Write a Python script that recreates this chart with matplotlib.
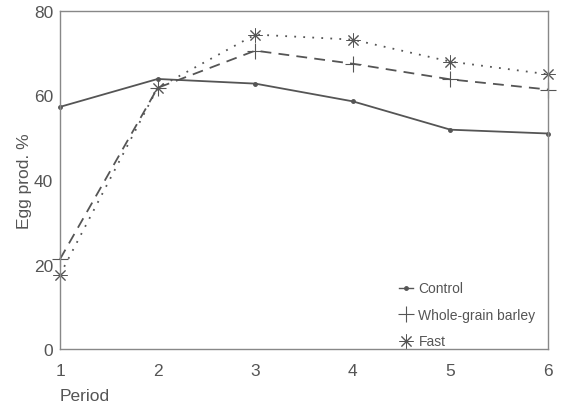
import matplotlib
matplotlib.use("Agg")
import matplotlib.pyplot as plt
from matplotlib.lines import Line2D

periods = [1, 2, 3, 4, 5, 6]
control = [57.3, 63.9, 62.8, 58.6, 51.9, 51.0]
barley = [21.3, 61.8, 70.6, 67.5, 63.8, 61.4]
fast = [17.6, 61.8, 74.4, 73.2, 68.0, 65.0]
series_names = ["Control", "Whole-grain barley", "Fast"]
yticks = [0, 20, 40, 60, 80]

c = "#555555"
plt.rcParams['font.family'] = ['Liberation Sans', 'DejaVu Sans']

fig = plt.figure(figsize=(5.61, 4.10), dpi=100)
ax = fig.add_axes([0.107, 0.146, 0.870, 0.825])

ax.plot(periods, control, color=c, lw=1.3, ls='-', marker='o', ms=2.5, clip_on=False)
ax.plot(periods, barley, color=c, lw=1.3, ls=(0, (6, 4)), marker='+', ms=12, mew=0.8, clip_on=False)
ax.plot(periods, fast, color=c, lw=1.3, ls=(0, (1, 4)), marker=(8, 2, 0), ms=10, mew=0.7, clip_on=False)

ax.set_xlim(1, 6)
ax.set_ylim(0, 80)
ax.set_xticks(periods)
ax.set_yticks(yticks)
ax.tick_params(length=0, labelsize=12.5, colors=c)
ax.tick_params(axis='x', pad=10)
ax.tick_params(axis='y', pad=5)
for s in ax.spines.values():
    s.set_color("#888888")
    s.set_linewidth(1.0)

ax.set_ylabel("Egg prod. %", fontsize=12.5, color=c, labelpad=1)
fig.text(60/561, 1-397/410, "Period", fontsize=12.5, color=c, ha='left', va='center')

handles = [
    Line2D([], [], color=c, lw=1.0, marker='o', ms=2.5, ls='-'),
    Line2D([], [], color=c, lw=0, marker='+', ms=12, mew=0.8),
    Line2D([], [], color=c, lw=0, marker=(8, 2, 0), ms=10, mew=0.7),
]
leg = ax.legend(handles, series_names, loc='lower right', bbox_to_anchor=(1.0, -0.035),
                frameon=False, fontsize=10, handlelength=1.0, handletextpad=0.4,
                labelspacing=0.9, labelcolor=c)

fig.savefig("out.png", dpi=100)
